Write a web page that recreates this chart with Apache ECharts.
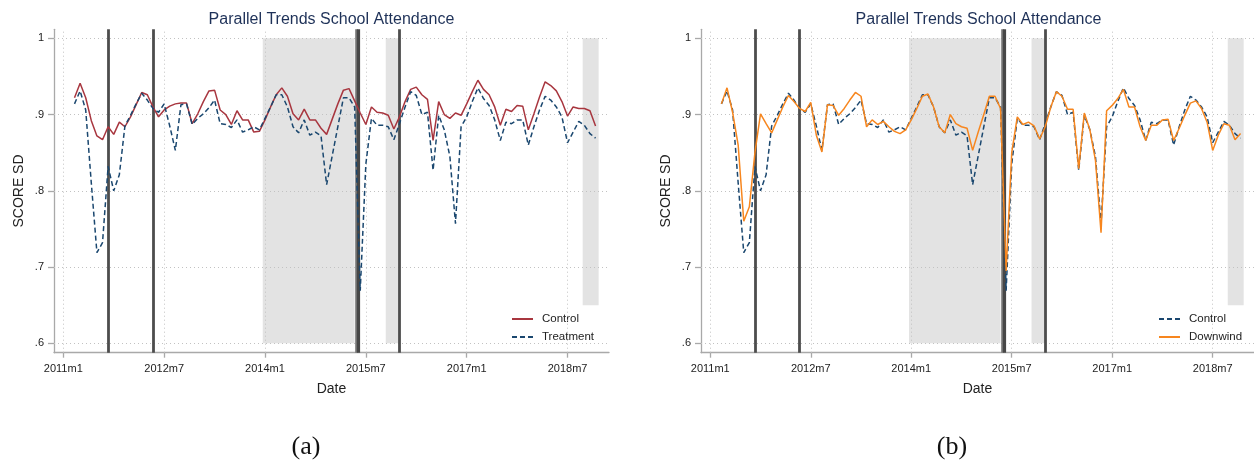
<!DOCTYPE html>
<html><head><meta charset="utf-8">
<script src="https://cdn.jsdelivr.net/npm/echarts@6/dist/echarts.min.js"></script>
<style>html,body{margin:0;padding:0;background:#fff}#c{width:1254px;height:468px}</style>
</head><body><div id="c"></div>
<script>
// x = months since 2011m1; first observation is 2011m3
const startMonth = 2;
const controlA = [
  .922,.941,.922,.892,.872,.867,.884,.874,.890,.884,
  .897,.913,.929,.926,.910,.897,.906,.911,.914,.915,
  .915,.888,.901,.917,.931,.932,.906,.900,.887,.905,
  .893,.893,.877,.878,.893,.910,.926,.935,.924,.901,
  .893,.907,.893,.893,.882,.874,.894,.914,.932,.934,
  .918,.902,.887,.910,.903,.902,.899,.881,.897,.917,
  .933,.936,.926,.920,.866,.917,.900,.895,.902,.899,
  .914,.930,.945,.933,.926,.910,.886,.907,.904,.912,
  .911,.880,.901,.923,.943,.938,.931,.917,.898,.910,
  .908,.908,.905,.885
];
const treatment = [
  .914,.931,.906,.810,.719,.732,.832,.800,.821,.885,
  .899,.914,.928,.919,.908,.903,.914,.885,.853,.913,
  .914,.887,.895,.901,.909,.919,.888,.887,.883,.893,
  .877,.880,.884,.880,.895,.910,.926,.926,.910,.884,
  .876,.893,.873,.877,.872,.808,.846,.884,.922,.922,
  .910,.669,.835,.895,.886,.886,.884,.867,.888,.910,
  .930,.925,.900,.903,.827,.899,.880,.845,.757,.884,
  .897,.917,.935,.921,.912,.893,.866,.890,.888,.893,
  .893,.860,.884,.906,.924,.919,.910,.897,.863,.877,
  .891,.886,.875,.869
];
const downwind = [
  .914,.935,.903,.860,.760,.779,.850,.901,.888,.876,
  .893,.910,.925,.917,.908,.904,.916,.873,.851,.913,
  .912,.899,.908,.919,.929,.924,.884,.893,.887,.891,
  .884,.878,.875,.880,.893,.908,.924,.927,.910,.884,
  .876,.900,.888,.884,.882,.853,.877,.900,.924,.924,
  .908,.695,.850,.897,.887,.890,.885,.868,.884,.910,
  .930,.924,.907,.907,.829,.902,.880,.840,.745,.905,
  .912,.921,.933,.910,.910,.884,.866,.886,.886,.893,
  .894,.866,.882,.899,.915,.918,.908,.890,.853,.873,
  .888,.886,.867,.875
];
const xTickMonths = [0, 18, 36, 54, 72, 90];
const xTickLabels = ['2011m1', '2012m7', '2014m1', '2015m7', '2017m1', '2018m7'];
const yTickValues = [0.6, 0.7, 0.8, 0.9, 1];
const yTickLabels = ['.6', '.7', '.8', '.9', '1'];
const eventMonths = [8, 16, 60];
const bandMonths = [52.22, 52.73];
// shaded periods: [fromMonth, toMonth, low, high]
const shadeFrom = [35.6, 57.55, 92.7];
const shadeTo = [52.0, 60.0, 95.55];
const shadeLow = [0.6, 0.6, 0.65];
const shadeHigh = [1, 1, 1];

const FONT = 'Liberation Sans, Arial, sans-serif';
const toPairs = arr => arr.map((v, i) => [startMonth + i, v]);
const pick = (vals, labels) => v => {
  for (let i = 0; i < vals.length; i++) if (Math.abs(vals[i] - v) < 1e-6) return labels[i];
  return '';
};

const gridW = 555, gridTop = 29.3, gridH = 323.4;
const grids = [
  {left: 54, top: gridTop, width: gridW, height: gridH},
  {left: 701, top: gridTop, width: gridW, height: gridH}
];
const axisGrey = '#a9a9a9';
function xAxisFor(gi) {
  return {
    gridIndex: gi, type: 'value', min: -1.66, max: 97.4,
    axisLine: {show: true, onZero: false, lineStyle: {color: axisGrey, width: 1.3}},
    axisTick: {show: true, customValues: xTickMonths, length: 5, lineStyle: {color: axisGrey, width: 1.3}},
    axisLabel: {customValues: xTickMonths, formatter: pick(xTickMonths, xTickLabels), margin: 11,
      fontSize: 11, color: '#222', fontFamily: FONT},
    splitLine: {show: false},
    name: 'Date', nameLocation: 'middle', nameGap: 29,
    nameTextStyle: {fontSize: 14, color: '#222', fontFamily: FONT}
  };
}
function yAxisFor(gi) {
  return {
    gridIndex: gi, type: 'value', min: 0.5877, max: 1.0118,
    axisLine: {show: true, onZero: false, lineStyle: {color: axisGrey, width: 1.3}},
    axisTick: {show: true, customValues: yTickValues, length: 6, lineStyle: {color: axisGrey, width: 1.3}},
    axisLabel: {customValues: yTickValues, formatter: pick(yTickValues, yTickLabels), margin: 10,
      fontSize: 11, color: '#222', fontFamily: FONT},
    splitLine: {show: false},
    name: 'SCORE SD', nameLocation: 'middle', nameGap: 28, nameRotate: 90,
    nameTextStyle: {fontSize: 14, color: '#222', fontFamily: FONT}
  };
}
function helperSeries(gi) {
  return [
    {
      name: '_shade' + gi, type: 'line', xAxisIndex: gi, yAxisIndex: gi, data: [], z: 1, silent: true,
      markArea: {silent: true, itemStyle: {color: '#e3e3e3'},
        data: shadeFrom.map((f, i) => [{xAxis: f, yAxis: shadeLow[i]}, {xAxis: shadeTo[i], yAxis: shadeHigh[i]}])}
    },
    {
      name: '_grid' + gi, type: 'line', xAxisIndex: gi, yAxisIndex: gi, data: [], z: 2, silent: true,
      markLine: {silent: true, symbol: ['none', 'none'], label: {show: false},
        lineStyle: {type: [1, 3], color: '#c2c2c2', width: 1},
        data: [...xTickMonths.map(m => ({xAxis: m})), ...yTickValues.map(v => ({yAxis: v}))]}
    },
    {
      name: '_events' + gi, type: 'line', xAxisIndex: gi, yAxisIndex: gi, data: [], z: 3, silent: true,
      markLine: {silent: true, symbol: ['none', 'none'], label: {show: false},
        lineStyle: {type: 'solid', color: '#4d4d4d', width: 2.8},
        data: [
          ...eventMonths.map(m => ({xAxis: m})),
          {xAxis: bandMonths[0], lineStyle: {color: '#767676', width: 2.6}},
          {xAxis: bandMonths[1], lineStyle: {color: '#474747', width: 3.2}}
        ]}
    }
  ];
}
const RED = '#a8363f', NAVY = '#1a476f', ORANGE = '#f7861e';
function dataSeries(name, gi, arr, color, dashed) {
  return {
    name, type: 'line', xAxisIndex: gi, yAxisIndex: gi, data: toPairs(arr), z: 5,
    showSymbol: false, symbol: 'none', silent: true,
    lineStyle: {color, width: 1.5, type: dashed ? [5, 3] : 'solid'},
    itemStyle: {color}
  };
}
function legendFor(names, left) {
  return {
    data: names, orient: 'vertical', left, top: 309, padding: [4, 6],
    itemWidth: 21, itemHeight: 14, itemGap: 6, backgroundColor: '#fff', selectedMode: false,
    itemStyle: {opacity: 0}, formatter: n => n.trim(),
    textStyle: {fontSize: 11.5, color: '#222', fontFamily: FONT, padding: [0, 0, 0, 4]}
  };
}

const chart = echarts.init(document.getElementById('c'), null, {renderer: 'canvas'});
chart.setOption({
  animation: false,
  backgroundColor: '#fff',
  title: [
    {text: 'Parallel Trends School Attendance', left: 331.5, top: 12,
      textStyle: {fontSize: 16, fontWeight: 'normal', color: '#1e3158', fontFamily: FONT}},
    {text: 'Parallel Trends School Attendance', left: 978.5, top: 12,
      textStyle: {fontSize: 16, fontWeight: 'normal', color: '#1e3158', fontFamily: FONT}},
    {text: '(a)', left: 306, top: 434,
      textStyle: {fontSize: 26, fontWeight: 'normal', color: '#111', fontFamily: 'Liberation Serif, serif'}},
    {text: '(b)', left: 952, top: 434,
      textStyle: {fontSize: 26, fontWeight: 'normal', color: '#111', fontFamily: 'Liberation Serif, serif'}}
  ].map(t => Object.assign(t, {textAlign: 'center', padding: 0})),
  grid: grids,
  xAxis: [xAxisFor(0), xAxisFor(1)],
  yAxis: [yAxisFor(0), yAxisFor(1)],
  legend: [legendFor(['Control', 'Treatment'], 505), legendFor(['Control ', 'Downwind'], 1152)],
  series: [
    ...helperSeries(0),
    dataSeries('Control', 0, controlA, RED, false),
    dataSeries('Treatment', 0, treatment, NAVY, true),
    ...helperSeries(1),
    dataSeries('Control ', 1, treatment, NAVY, true),
    dataSeries('Downwind', 1, downwind, ORANGE, false)
  ]
});
</script>
</body></html>
